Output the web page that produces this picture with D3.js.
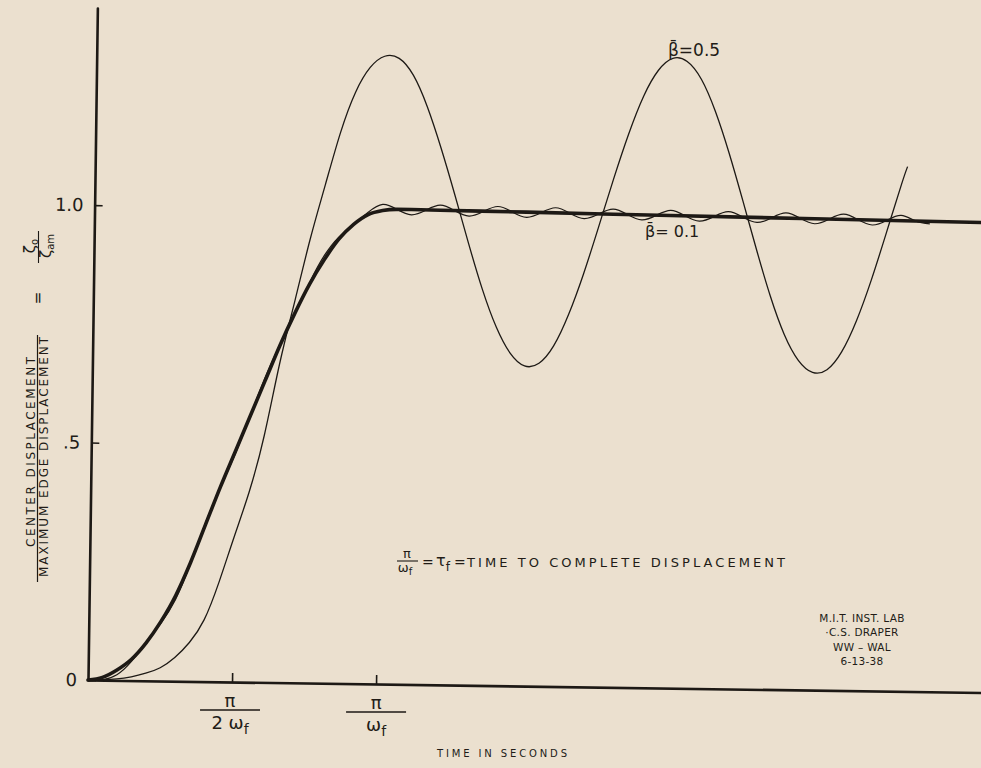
<!DOCTYPE html>
<html>
<head>
<meta charset="utf-8">
<script src="https://cdn.jsdelivr.net/npm/d3@7"></script>
<style>
  html, body { margin: 0; padding: 0; background: #ebe0cf; }
  svg { display: block; }
  text { font-family: "DejaVu Sans", sans-serif; fill: #221c17; }
</style>
</head>
<body>
<svg id="chart"></svg>
<script>
// time is in units of pi/omega_f (time to complete displacement)
const inputT = [0, 0.05, 0.1, 0.15, 0.2, 0.25, 0.3, 0.35, 0.4, 0.45, 0.5, 0.55, 0.6, 0.65, 0.7, 0.75, 0.8, 0.85, 0.9, 0.95, 1.0, 1.05, 1.1, 1.2, 1.5, 2.0, 2.5, 3.0, 3.2];
const inputV = [0, 0.006, 0.022, 0.045, 0.08, 0.125, 0.18, 0.25, 0.33, 0.41, 0.485, 0.56, 0.635, 0.71, 0.778, 0.84, 0.892, 0.936, 0.967, 0.988, 0.997, 1.0, 1.0, 0.9995, 0.998, 0.995, 0.9925, 0.99, 0.989];

// beta = 0.5
const beta05T = [0, 0.05, 0.1, 0.15, 0.2, 0.25, 0.3, 0.35, 0.4, 0.45, 0.5, 0.55, 0.6, 0.65, 0.7, 0.75, 0.8, 0.85, 0.9, 0.95,
  1.0, 1.05, 1.1, 1.15, 1.2, 1.25, 1.3, 1.35, 1.4, 1.45, 1.5, 1.55, 1.6, 1.65, 1.7, 1.75, 1.8, 1.85, 1.9, 1.95,
  2.0, 2.05, 2.1, 2.15, 2.2, 2.25, 2.3, 2.35, 2.4, 2.45, 2.5, 2.55, 2.6, 2.65, 2.7, 2.75, 2.8, 2.82];
const beta05V = [0, 0.001, 0.003, 0.008, 0.016, 0.028, 0.05, 0.082, 0.13, 0.21, 0.305, 0.4, 0.52, 0.672, 0.805, 0.935, 1.05, 1.16, 1.245, 1.298,
  1.322, 1.318, 1.283, 1.217, 1.13, 1.032, 0.93, 0.834, 0.755, 0.7, 0.674, 0.68, 0.717, 0.783, 0.869, 0.968, 1.07, 1.165, 1.245, 1.3,
  1.326, 1.32, 1.283, 1.216, 1.128, 1.028, 0.925, 0.828, 0.748, 0.694, 0.669, 0.675, 0.713, 0.779, 0.866, 0.966, 1.068, 1.105];

// beta = 0.1
const beta01T = [0, 0.05, 0.1, 0.15, 0.2, 0.25, 0.3, 0.35, 0.4, 0.45, 0.5, 0.55, 0.6, 0.65, 0.7, 0.75, 0.8, 0.85, 0.9, 0.95,
  1.0, 1.05, 1.1, 1.15, 1.2, 1.25, 1.3, 1.35, 1.4, 1.45, 1.5, 1.55, 1.6, 1.65, 1.7, 1.75, 1.8, 1.85, 1.9, 1.95,
  2.0, 2.05, 2.1, 2.15, 2.2, 2.25, 2.3, 2.35, 2.4, 2.45, 2.5, 2.55, 2.6, 2.65, 2.7, 2.75, 2.8, 2.85, 2.9];
const beta01V = [0, 0.001, 0.012, 0.0405, 0.081, 0.1215, 0.172, 0.248, 0.3335, 0.409, 0.48, 0.561, 0.6415, 0.712, 0.776, 0.8435, 0.901, 0.9405, 0.967, 0.993,
  1.01, 1.0, 0.989, 0.999, 1.01, 0.999, 0.988, 0.998, 1.009, 0.998, 0.987, 0.997, 1.008, 0.997, 0.986, 0.996, 1.007, 0.996, 0.985, 0.995,
  1.006, 0.995, 0.984, 0.994, 1.005, 0.994, 0.983, 0.993, 1.004, 0.993, 0.982, 0.992, 1.003, 0.992, 0.981, 0.991, 1.002, 0.991, 0.985];

const yTicks = [0, 0.5, 1.0];
const yTickLabels = ["0", ".5", "1.0"];
const xTicks = [0.5, 1.0];

const W = 981, H = 768;
const ink = "#1d1915";

const svg = d3.select("#chart").attr("width", W).attr("height", H);
svg.append("rect").attr("width", W).attr("height", H).attr("fill", "#ebe0cf");

const x = d3.scaleLinear().domain([0, 3.1]).range([88, 981]);
const y = d3.scaleLinear().domain([0, 1.415]).range([680, 8]);

// the original sheet sits slightly rotated
const plot = svg.append("g").attr("transform", "rotate(0.8, 88, 680)");

plot.append("g")
  .attr("transform", "translate(0,680)")
  .call(d3.axisBottom(x).tickValues(xTicks).tickSize(-9).tickSizeOuter(0).tickFormat(""))
  .call(g => g.select(".domain").attr("stroke", ink).attr("stroke-width", 2.6))
  .call(g => g.selectAll(".tick line").attr("stroke", ink).attr("stroke-width", 1.6));

plot.append("g")
  .attr("transform", "translate(88,0)")
  .call(d3.axisLeft(y).tickValues(yTicks).tickSize(-8).tickSizeOuter(0).tickPadding(11)
    .tickFormat((d, i) => yTickLabels[i]))
  .call(g => g.select(".domain").attr("stroke", ink).attr("stroke-width", 2.6).attr("stroke-linecap", "round"))
  .call(g => g.selectAll(".tick line").attr("stroke", ink).attr("stroke-width", 1.6))
  .call(g => g.selectAll(".tick text").attr("font-family", null).style("font-size", "18px").attr("fill", ink));

const line = d3.line().x(d => x(d[0])).y(d => y(d[1]));

plot.append("path")
  .datum(d3.zip(beta05T, beta05V))
  .attr("fill", "none").attr("stroke", ink).attr("stroke-width", 1.3)
  .attr("d", line.curve(d3.curveNatural));

plot.append("path")
  .datum(d3.zip(beta01T, beta01V))
  .attr("fill", "none").attr("stroke", ink).attr("stroke-width", 1.2)
  .attr("d", line.curve(d3.curveNatural));

plot.append("path")
  .datum(d3.zip(inputT, inputV))
  .attr("fill", "none").attr("stroke", ink).attr("stroke-width", 3.6)
  .attr("stroke-linecap", "round")
  .attr("d", line.curve(d3.curveMonotoneX));

// x tick labels: pi / 2 omega_f and pi / omega_f
function fracLabel(cx, num, den, top) {
  const g = svg.append("g");
  g.append("text").attr("x", cx).attr("y", top).attr("text-anchor", "middle")
    .style("font-size", "18px").text(num);
  g.append("line").attr("x1", cx - 30).attr("x2", cx + 30).attr("y1", top + 3).attr("y2", top + 3)
    .attr("stroke", ink).attr("stroke-width", 1.6);
  const t = g.append("text").attr("x", cx).attr("y", top + 22).attr("text-anchor", "middle")
    .style("font-size", "18px").text(den);
  t.append("tspan").attr("dy", 5).style("font-size", "14px").text("f");
}
fracLabel(x(0.5) - 2, "π", "2 ω", 707);
fracLabel(x(1.0), "π", "ω", 709);

svg.append("text").attr("x", 502).attr("y", 757).attr("text-anchor", "middle")
  .attr("textLength", 130).attr("lengthAdjust", "spacing")
  .style("font-size", "10px").text("TIME IN SECONDS");

// y axis title, written sideways
function sideText(px, py, txt, size, len) {
  const t = svg.append("text")
    .attr("transform", `translate(${px},${py}) rotate(-90)`)
    .attr("text-anchor", "middle").style("font-size", size + "px").text(txt);
  if (len) t.attr("textLength", len).attr("lengthAdjust", "spacing");
  return t;
}
sideText(35, 452, "CENTER DISPLACEMENT", 12, 190);
svg.append("line").attr("x1", 37.5).attr("x2", 37.5).attr("y1", 335).attr("y2", 582)
  .attr("stroke", ink).attr("stroke-width", 1.2);
sideText(48, 457, "MAXIMUM EDGE DISPLACEMENT", 12, 240);
sideText(43, 298, "=", 15);
const zn = sideText(35, 246, "ζ", 15);
zn.append("tspan").attr("dy", 3).style("font-size", "10px").text("o");
svg.append("line").attr("x1", 38.5).attr("x2", 38.5).attr("y1", 231).attr("y2", 263)
  .attr("stroke", ink).attr("stroke-width", 1.1);
const zd = sideText(51, 246, "ζ", 15);
zd.append("tspan").attr("dy", 3).style("font-size", "10px").text("am");

// curve labels
svg.append("text").attr("x", 668).attr("y", 56).style("font-size", "17px").text("β̄=0.5");
svg.append("text").attr("x", 645).attr("y", 237).style("font-size", "16px").text("β̄= 0.1");

// definition note
svg.append("text").attr("x", 407).attr("y", 558).attr("text-anchor", "middle").style("font-size", "13px").text("π");
svg.append("line").attr("x1", 397).attr("x2", 418).attr("y1", 561).attr("y2", 561)
  .attr("stroke", ink).attr("stroke-width", 1.1);
const wf = svg.append("text").attr("x", 405).attr("y", 572).attr("text-anchor", "middle").style("font-size", "13px").text("ω");
wf.append("tspan").attr("dy", 3).style("font-size", "10px").text("f");
svg.append("text").attr("x", 422).attr("y", 567).style("font-size", "14px").text("=");
const tau = svg.append("text").attr("x", 436).attr("y", 566).style("font-size", "16px").text("τ");
tau.append("tspan").attr("dy", 5).style("font-size", "12px").text("f");
svg.append("text").attr("x", 454).attr("y", 567).style("font-size", "14px").text("=");
svg.append("text").attr("x", 467).attr("y", 567).attr("textLength", 318).attr("lengthAdjust", "spacing")
  .style("font-size", "13px").text("TIME  TO  COMPLETE  DISPLACEMENT");

// stamp
const stamp = ["M.I.T. INST. LAB", "·C.S. DRAPER", "WW – WAL", "6-13-38"];
svg.append("g").selectAll("text").data(stamp).join("text")
  .attr("x", 862).attr("y", (d, i) => 622 + i * 14.3).attr("text-anchor", "middle")
  .style("font-size", "10.5px").style("letter-spacing", "0.3px").text(d => d);
</script>
</body>
</html>
